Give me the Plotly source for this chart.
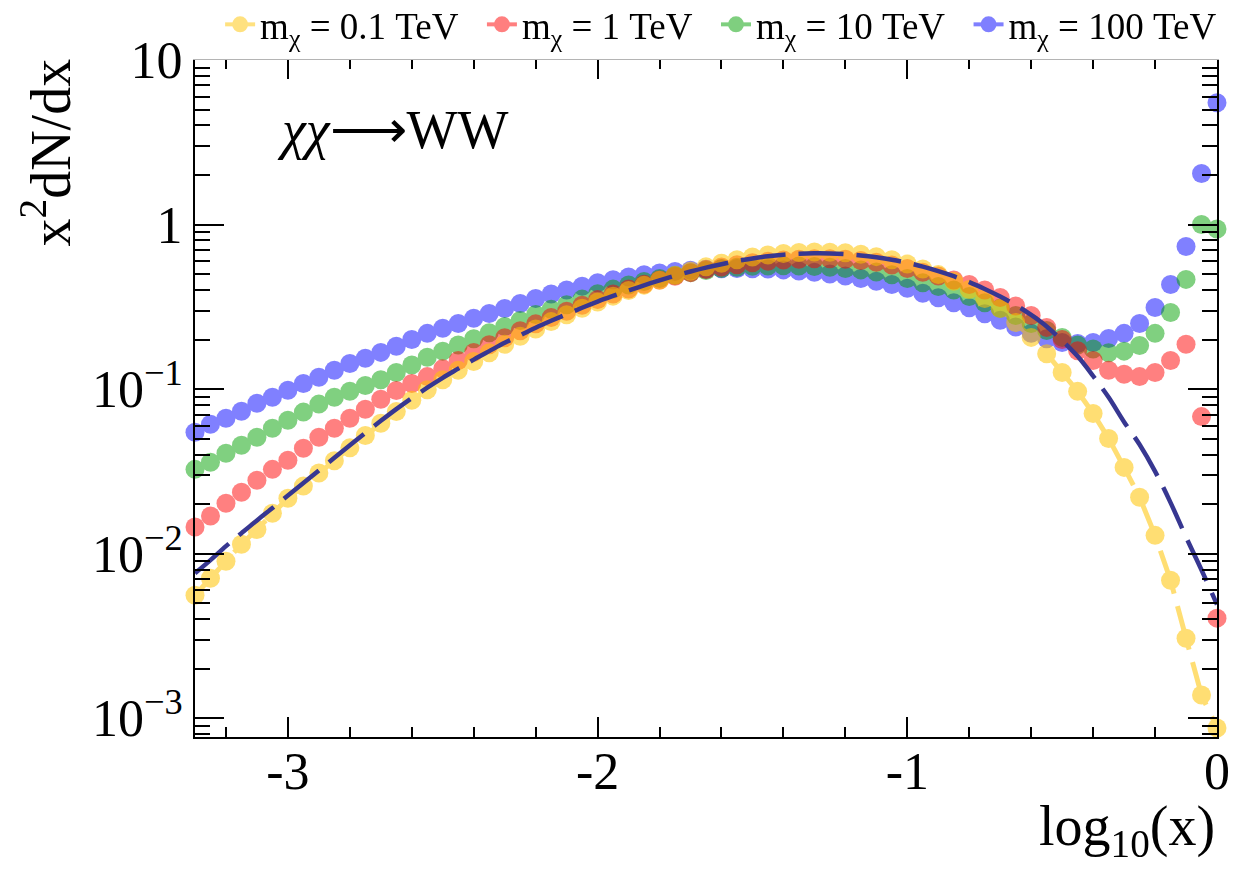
import plotly.graph_objects as go

# log10(x) sampling of the spectra
log_x = [
    -3.30, -3.25, -3.20, -3.15, -3.10, -3.05, -3.00, -2.95, -2.90, -2.85,
    -2.80, -2.75, -2.70, -2.65, -2.60, -2.55, -2.50, -2.45, -2.40, -2.35,
    -2.30, -2.25, -2.20, -2.15, -2.10, -2.05, -2.00, -1.95, -1.90, -1.85,
    -1.80, -1.75, -1.70, -1.65, -1.60, -1.55, -1.50, -1.45, -1.40, -1.35,
    -1.30, -1.25, -1.20, -1.15, -1.10, -1.05, -1.00, -0.95, -0.90, -0.85,
    -0.80, -0.75, -0.70, -0.65, -0.60, -0.55, -0.50, -0.45, -0.40, -0.35,
    -0.30, -0.25, -0.20, -0.15, -0.10, -0.05, 0.00,
]

# x^2 dN/dx for chi chi -> W W at four dark-matter masses
spec_01tev = [
    0.00558, 0.00708, 0.00897, 0.0114, 0.0140, 0.0176, 0.0217, 0.0257, 0.0309, 0.0367,
    0.0439, 0.0522, 0.0619, 0.0729, 0.0855, 0.0989, 0.114, 0.130, 0.147, 0.166,
    0.187, 0.209, 0.232, 0.257, 0.283, 0.310, 0.338, 0.367, 0.397, 0.428,
    0.459, 0.491, 0.522, 0.553, 0.582, 0.610, 0.634, 0.653, 0.667, 0.676,
    0.681, 0.679, 0.673, 0.659, 0.638, 0.610, 0.575, 0.537, 0.496, 0.452,
    0.403, 0.355, 0.309, 0.254, 0.206, 0.164, 0.126, 0.0968, 0.0711, 0.0501,
    0.0334, 0.0220, 0.0129, 0.00689, 0.00306, 0.00138, 0.00087,
]
spec_1tev = [
    0.0145, 0.0169, 0.0202, 0.0236, 0.0279, 0.0325, 0.0369, 0.0437, 0.0509, 0.0577,
    0.0664, 0.0753, 0.0866, 0.098, 0.108, 0.119, 0.133, 0.149, 0.167, 0.186,
    0.205, 0.226, 0.249, 0.272, 0.297, 0.323, 0.350, 0.378, 0.406, 0.433,
    0.460, 0.485, 0.510, 0.532, 0.552, 0.570, 0.585, 0.598, 0.608, 0.615,
    0.619, 0.619, 0.615, 0.605, 0.590, 0.567, 0.540, 0.512, 0.486, 0.460,
    0.432, 0.400, 0.360, 0.320, 0.280, 0.237, 0.200, 0.171, 0.149, 0.130,
    0.123, 0.119, 0.126, 0.149, 0.187, 0.068, 0.00405,
]
spec_10tev = [
    0.0325, 0.0359, 0.0407, 0.0455, 0.0509, 0.0577, 0.0646, 0.0724, 0.0810, 0.0891,
    0.0970, 0.105, 0.114, 0.126, 0.140, 0.156, 0.170, 0.185, 0.202, 0.220,
    0.240, 0.261, 0.284, 0.305, 0.325, 0.352, 0.379, 0.405, 0.429, 0.450,
    0.470, 0.490, 0.510, 0.525, 0.540, 0.550, 0.557, 0.560, 0.562, 0.560,
    0.556, 0.550, 0.540, 0.530, 0.515, 0.495, 0.470, 0.443, 0.420, 0.400,
    0.365, 0.335, 0.310, 0.280, 0.250, 0.227, 0.206, 0.185, 0.175, 0.166,
    0.170, 0.184, 0.218, 0.292, 0.464, 1.00, 0.94,
]
spec_100tev = [
    0.0546, 0.0611, 0.0664, 0.0733, 0.0819, 0.0891, 0.0982, 0.108, 0.118, 0.130,
    0.143, 0.154, 0.167, 0.182, 0.200, 0.218, 0.234, 0.250, 0.269, 0.288,
    0.309, 0.331, 0.355, 0.378, 0.400, 0.422, 0.443, 0.462, 0.480, 0.495,
    0.508, 0.519, 0.528, 0.534, 0.538, 0.540, 0.539, 0.536, 0.530, 0.522,
    0.512, 0.500, 0.486, 0.470, 0.452, 0.432, 0.410, 0.382, 0.359, 0.335,
    0.312, 0.287, 0.262, 0.238, 0.218, 0.202, 0.192, 0.189, 0.192, 0.203,
    0.218, 0.250, 0.313, 0.432, 0.735, 2.04, 5.5,
]
# smooth reference curve (dashed)
ref_curve = [
    0.00759, 0.00912, 0.0111, 0.0133, 0.0159, 0.0189, 0.0225, 0.0268, 0.0320, 0.0382,
    0.0455, 0.0541, 0.0641, 0.0755, 0.0881, 0.102, 0.117, 0.133, 0.151, 0.170,
    0.191, 0.212, 0.236, 0.260, 0.285, 0.312, 0.340, 0.368, 0.397, 0.427,
    0.457, 0.488, 0.518, 0.547, 0.574, 0.600, 0.622, 0.641, 0.655, 0.664,
    0.668, 0.667, 0.661, 0.649, 0.632, 0.611, 0.585, 0.555, 0.521, 0.485,
    0.447, 0.406, 0.365, 0.324, 0.282, 0.240, 0.197, 0.158, 0.120, 0.0891,
    0.0631, 0.0460, 0.0316, 0.0204, 0.0126, 0.00794, 0.00490,
]

GAP = "\u00a0\u00a0"
legend_names = ["m<sub>χ</sub> = 0.1 TeV" + GAP, "m<sub>χ</sub> = 1 TeV" + GAP,
                "m<sub>χ</sub> = 10 TeV" + GAP, "m<sub>χ</sub> = 100 TeV"]
series_colors = ["rgb(255,196,0)", "rgb(255,0,0)", "rgb(0,160,0)", "rgb(0,0,255)"]
curve_color = "rgb(55,55,145)"

x_major = [-3, -2, -1, 0]
x_major_text = ["-3", "-2", "-1", "0"]
x_minor = [-3.2, -2.8, -2.6, -2.4, -2.2, -1.8, -1.6, -1.4, -1.2,
           -0.8, -0.6, -0.4, -0.2]
y_major = [0.001, 0.01, 0.1, 1, 10]
y_major_text = ["10<sup>−3</sup>", "10<sup>−2</sup>", "10<sup>−1</sup>", "1", "10"]
y_minor = [m * d for d in (0.0001, 0.001, 0.01, 0.1, 1) for m in range(2, 10)]

FONT = "Liberation Serif"
DASH = "45px,13px"
MARKER_SIZE = 19

fig = go.Figure()

# drawn back to front: 100, 10, 1, 0.1 TeV
for values, color in [(spec_100tev, series_colors[3]), (spec_10tev, series_colors[2]),
                      (spec_1tev, series_colors[1])]:
    fig.add_trace(go.Scatter(
        x=log_x, y=values, mode="markers", opacity=0.5, showlegend=False,
        cliponaxis=False, hoverinfo="skip",
        marker=dict(size=MARKER_SIZE, color=color, line=dict(width=0)),
    ))

fig.add_trace(go.Scatter(
    x=log_x, y=spec_01tev, mode="lines+markers", opacity=0.55, showlegend=False,
    cliponaxis=False, hoverinfo="skip",
    line=dict(color=series_colors[0], width=5, dash=DASH),
    marker=dict(size=MARKER_SIZE, color=series_colors[0], line=dict(width=0)),
))

fig.add_trace(go.Scatter(
    x=log_x, y=ref_curve, mode="lines", showlegend=False, hoverinfo="skip",
    line=dict(color=curve_color, width=4.5, dash=DASH, shape="spline"),
))

# legend entries (line + marker)
for name, color in zip(legend_names, series_colors):
    fig.add_trace(go.Scatter(
        x=[None], y=[None], mode="lines+markers", name=name, opacity=0.5,
        xaxis="x2",
        line=dict(color=color, width=4),
        marker=dict(size=MARKER_SIZE, color=color, line=dict(width=0)),
    ))

tick_font = dict(family=FONT, size=52, color="black")

fig.update_layout(
    width=1258, height=875,
    margin=dict(l=195, r=41, t=60, b=138, autoexpand=False),
    paper_bgcolor="white", plot_bgcolor="white",
    font=dict(family=FONT, color="black"),
    showlegend=True,
    legend=dict(
        orientation="h", x=1.005, xanchor="right", y=1.052, yanchor="middle",
        font=dict(family=FONT, size=37, color="black"),
        bgcolor="rgba(0,0,0,0)", itemwidth=30, tracegroupgap=0,
    ),
    xaxis=dict(
        range=[-3.3, 0], showgrid=False, zeroline=False,
        showline=True, linecolor="black", linewidth=2,
        ticks="inside", ticklen=20, tickwidth=2, tickcolor="black",
        tickmode="array", tickvals=x_major, ticktext=x_major_text,
        tickfont=tick_font, ticklabelstandoff=-12,
        minor=dict(ticks="inside", ticklen=10, tickwidth=2, tickcolor="black",
                   tickmode="array", tickvals=x_minor, showgrid=False),
    ),
    xaxis2=dict(
        overlaying="x", side="top", anchor="y", range=[-3.3, 0],
        showgrid=False, zeroline=False,
        showline=True, linecolor="#b4b4b4", linewidth=1,
        ticks="inside", ticklen=19, tickwidth=2, tickcolor="black",
        tickmode="array", tickvals=x_major, showticklabels=False,
        minor=dict(ticks="inside", ticklen=9, tickwidth=2, tickcolor="black",
                   tickmode="array", tickvals=x_minor, showgrid=False),
    ),
    yaxis=dict(
        type="log", range=[-3.115, 1.0], showgrid=False, zeroline=False,
        showline=True, linecolor="black", linewidth=2, mirror="ticks",
        ticks="inside", ticklen=29, tickwidth=2, tickcolor="black",
        tickmode="array", tickvals=y_major, ticktext=y_major_text,
        tickfont=tick_font,
        minor=dict(ticks="inside", ticklen=15, tickwidth=2, tickcolor="black",
                   tickmode="array", tickvals=y_minor, showgrid=False),
    ),
    annotations=[
        dict(text="<i>χχ</i>⟶WW", x=0.078, y=0.897, xref="paper", yref="paper",
             xanchor="left", yanchor="middle", showarrow=False,
             font=dict(family=FONT, size=54, color="black")),
        dict(text="x<sup>2</sup>dN/dx", x=-0.145, y=1.005, xref="paper", yref="paper",
             xanchor="center", yanchor="top", textangle=-90, showarrow=False,
             font=dict(family=FONT, size=56, color="black")),
        dict(text="log<sub>10</sub>(x)", x=1.0, y=-0.137, xref="paper", yref="paper",
             xanchor="right", yanchor="middle", showarrow=False,
             font=dict(family=FONT, size=56, color="black")),
    ],
)

fig.write_html("out.html")
